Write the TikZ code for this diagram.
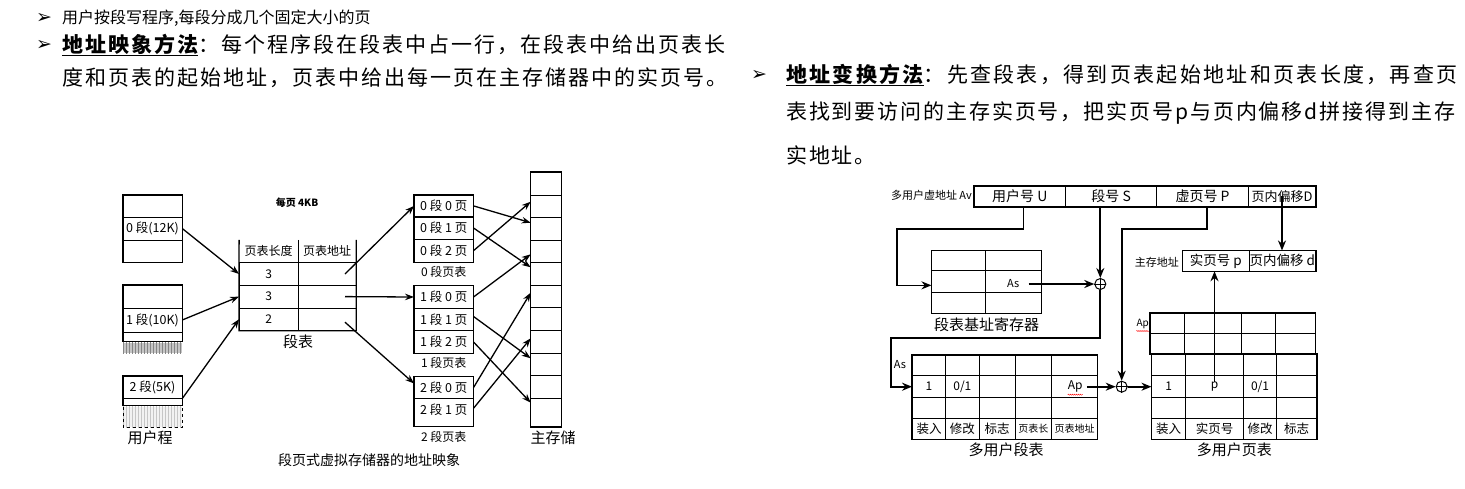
\documentclass[tikz,border=0pt]{standalone}
\usepackage{fontspec}
\setmainfont{Noto Sans CJK SC}
\newfontfamily\symfont{DejaVu Sans}
\newfontfamily\bigcjk[LetterSpace=9.5]{Noto Sans CJK SC}
\newfontfamily\bigcjkr[LetterSpace=11]{Noto Sans CJK SC}
\newfontfamily\bigcjks[LetterSpace=9]{Noto Sans CJK SC}
\usetikzlibrary{arrows.meta,patterns,decorations.pathmorphing}
\begin{document}
\begin{tikzpicture}[x=1pt,y=-1pt,
  fs/.style={font=\fontsize{#1}{#1}\selectfont},
  cell/.style 2 args={draw,line width=0.5pt,inner sep=0pt,minimum width=#1,minimum height=#2},
  outerb/.style={line width=1.3pt},
  arr/.style={-{Stealth[length=9pt,width=6.5pt]},line width=1.3pt},
  tarr/.style={-{Stealth[length=10pt,width=8pt]},line width=1.7pt},
  oplus/.style={circle,draw,line width=1pt,minimum size=11pt,inner sep=0pt},
  lbl/.style={inner sep=0pt},
  bul/.style={inner sep=0pt,anchor=west,font=\symfont\fontsize{19}{19}\selectfont},
  wavy/.style={red,line width=0.4pt,decorate,decoration={snake,amplitude=0.6pt,segment length=2pt}}
]
\useasboundingbox (0,0) rectangle (1465,488);
\fill[white] (0,0) rectangle (1465,488);

% ---------------- top text ----------------
\node[bul] (b1) at (36,18) {➢};
\node[lbl,anchor=west] (t1) at (62,18) {\fontsize{16}{16}\selectfont 用户按段写程序,每段分成几个固定大小的页};
\node[bul] (b2) at (36,45) {➢};
\node[lbl,anchor=west] (t2) at (62,45) {\bigcjk\fontsize{21}{21}\selectfont\underline{\bfseries 地址映象方法}：每个程序段在段表中占一行，在段表中给出页表长};
\node[lbl,anchor=west] (t3) at (62,78) {\bigcjk\fontsize{21}{21}\selectfont 度和页表的起始地址，页表中给出每一页在主存储器中的实页号。};
\node[bul] (b4) at (751,75) {➢};
\node[lbl,anchor=west] (t4) at (786,75) {\bigcjkr\fontsize{21}{21}\selectfont\underline{\bfseries 地址变换方法}：先查段表，得到页表起始地址和页表长度，再查页};
\node[lbl,anchor=west] (t5) at (786,113) {\bigcjks\fontsize{21}{21}\selectfont 表找到要访问的主存实页号，把实页号p与页内偏移d拼接得到主存};
\node[lbl,anchor=west] (t6) at (786,155) {\bigcjks\fontsize{21}{21}\selectfont 实地址。};

% ---------------- left diagram ----------------
% user program
\node[cell={59}{22}] (u0r1) at (152.5,206) {};
\node[cell={59}{23}] (u0r2) at (152.5,228.5) {};
\node[cell={59}{22}] (u0r3) at (152.5,251) {};
\node[lbl,fs=12.5] (u0t) at (u0r2) {0 段(12K)};
\draw[outerb] (u0r1.north west) rectangle (u0r3.south east);

\node[cell={59}{22.7}] (u1r1) at (152.5,296.7) {};
\node[cell={59}{24}] (u1r2) at (152.5,320) {};
\node[cell={59}{9}] (u1r3) at (152.5,336.5) {};
\node[lbl,fs=12.5] (u1t) at (u1r2) {1 段(10K)};
\draw[outerb] (u1r1.north west) rectangle (u1r3.south east);
\fill[gray!45] (123,342.5) rectangle (182,353);
\fill[pattern=vertical lines,pattern color=gray!95] (123,342.5) rectangle (182,353);

\node[cell={59}{22.3}] (u2r1) at (152.5,387.2) {};
\node[cell={59}{6.7}] (u2r2) at (152.5,401.7) {};
\node[lbl,fs=12.5] (u2t) at (u2r1) {2 段(5K)};
\draw[outerb] (u2r1.north west) rectangle (u2r2.south east);
\fill[gray!10] (123,406.5) rectangle (182,427);
\fill[pattern=vertical lines,pattern color=gray!45] (123,406.5) rectangle (182,427);
\draw[dashed,line width=0.7pt] (123,406.5) -- (123,427) -- (182,427) -- (182,406.5);
\node[lbl,fs=15] (uprog) at (150,438) {用户程};

\node[lbl,font={\fontsize{10}{10}\selectfont\bfseries}] (pg) at (297,203) {每页 4KB};

% segment table
\node[lbl,minimum width=58.7,minimum height=22.7] (sh1) at (268.65,251.35) {\fontsize{12}{12}\selectfont 页表长度};
\node[lbl,minimum width=58,minimum height=22.7] (sh2) at (327,251.35) {\fontsize{12}{12}\selectfont 页表地址};
\draw[line width=0.5pt] (sh1.north east) -- (sh1.south east);
\node[cell={58.7}{22.6}] (st1a) at (268.65,274) {};
\node[cell={58}{22.6}] (st1b) at (327,274) {};
\node[cell={58.7}{22.6}] (st2a) at (268.65,296.6) {};
\node[cell={58}{22.6}] (st2b) at (327,296.6) {};
\node[cell={58.7}{22.6}] (st3a) at (268.65,319.2) {};
\node[cell={58}{22.6}] (st3b) at (327,319.2) {};
\node[lbl,fs=12] (n1) at (st1a) {3};
\node[lbl,fs=12] (n2) at (st2a) {3};
\node[lbl,fs=12] (n3) at (st3a) {2};
\draw[outerb] (sh1.north west) -- (st3a.south west) -- (st3b.south east) -- (sh2.north east);
\node[lbl,fs=15] (stlbl) at (298,342) {段表};

% page tables
\node[cell={59}{21.7}] (p0r1) at (443.8,205.9) {};
\node[cell={59}{22.6}] (p0r2) at (443.8,228) {};
\node[cell={59}{22.7}] (p0r3) at (443.8,250.65) {};
\draw[outerb] (p0r1.north west) rectangle (p0r3.south east);
\node[lbl,fs=12.5] at (p0r1) {0 段 0 页};
\node[lbl,fs=12.5] at (p0r2) {0 段 1 页};
\node[lbl,fs=12.5] at (p0r3) {0 段 2 页};
\node[lbl,fs=12] (p0l) at (443.8,272) {0 段页表};

\node[cell={59}{22.6}] (p1r1) at (443.8,297) {};
\node[cell={59}{22.4}] (p1r2) at (443.8,319.5) {};
\node[cell={59}{22.6}] (p1r3) at (443.8,342) {};
\draw[outerb] (p1r1.north west) rectangle (p1r3.south east);
\node[lbl,fs=12.5] at (p1r1) {1 段 0 页};
\node[lbl,fs=12.5] at (p1r2) {1 段 1 页};
\node[lbl,fs=12.5] at (p1r3) {1 段 2 页};
\node[lbl,fs=12] (p1l) at (443.8,362.5) {1 段页表};

\node[cell={59}{21.6}] (p2r1) at (443.8,387.5) {};
\node[lbl,minimum width=59,minimum height=22] (p2r2) at (443.8,409.3) {};
\draw[outerb] (p2r1.north west) rectangle (443.8+29.5,426.7);
\node[lbl,fs=12.5] at (p2r1) {2 段 0 页};
\node[lbl,fs=12.5] at (p2r2) {2 段 1 页};
\node[lbl,fs=12] (p2l) at (443.8,436.5) {2 段页表};

% main memory
\foreach \i in {0,...,9}
  \node[cell={30.3}{22.57}] (mm\i) at (545.85,{183.585+22.57*\i}) {};
\node[cell={30.3}{28.7}] (mm10) at (545.85,412.35) {};
\draw[outerb] (mm0.north west) rectangle (mm10.south east);
\node[lbl,fs=15] (memlbl) at (553,438) {主存储};

\node[lbl,fs=14] (cap) at (369,460) {段页式虚拟存储器的地址映象};

% connectors left
\draw[arr] (u0r2.east) -- (st1a.west);
\draw[arr] (u1r2.east) -- (st2a.west);
\draw[arr] (u2r1.south east) -- (st3a.west);
\draw[arr] ([xshift=18pt]st1b.center) -- (p0r1.west);
\draw[arr] ([xshift=18pt]st2b.center) -- (p1r1.west);
\draw[arr] ([xshift=18pt,yshift=-3pt]st3b.center) -- ([yshift=4pt]p2r1.west);
\coordinate (m1) at (530.7,201.7);
\coordinate (m2) at (530.7,222.7);
\coordinate (m3) at (530.7,254.3);
\coordinate (m4) at (530.7,267.3);
\coordinate (m5) at (530.7,292.7);
\coordinate (m7) at (530.7,338.3);
\coordinate (m8) at (530.7,358.3);
\coordinate (m10) at (530.7,402.7);
\draw[arr] (p0r1.east) -- (m2);
\draw[arr] (p0r2.east) -- (m4);
\draw[arr] (p0r3.east) -- (m1);
\draw[arr] (p1r1.east) -- (m3);
\draw[arr] ([yshift=3pt]p1r2.east) -- (m8);
\draw[arr] (p1r3.east) -- (m10);
\draw[arr] (p2r1.east) -- (m5);
\draw[arr] ([yshift=1pt]p2r2.east) -- (m7);

% ---------------- right diagram ----------------
\node[cell={91.7}{20.7}] (cU) at (1019.85,196.35) {};
\node[cell={91}{20.7}] (cS) at (1111.2,196.35) {};
\node[cell={91.6}{20.7}] (cP) at (1202.5,196.35) {};
\node[cell={67.4}{20.7}] (cD) at (1282,196.35) {};
\draw[outerb] (cU.north west) rectangle (cD.south east);
\node[lbl,fs=14] (tU) at (cU) {用户号 U};
\node[lbl,fs=14] (tS) at (cS) {段号 S};
\node[lbl,fs=14] (tP) at (cP) {虚页号 P};
\node[lbl,fs=13] (tD) at (cD) {页内偏移D};
\node[lbl,fs=11,anchor=east] (avl) at (972,195) {多用户虚地址 Av};

% segment base register
\node[cell={54}{19.3}] (sbL1) at (958.7,260.35) {};
\node[cell={55.3}{19.3}] (sbR1) at (1013.35,260.35) {};
\node[cell={54}{22.7}] (sbL2) at (958.7,281.35) {};
\node[cell={55.3}{22.7}] (sbR2) at (1013.35,281.35) {};
\node[cell={54}{20.6}] (sbL3) at (958.7,303) {};
\node[cell={55.3}{20.6}] (sbR3) at (1013.35,303) {};
\draw[outerb] (sbL1.north west) rectangle (sbR3.south east);
\node[lbl,fs=11] (tAs) at (1013.3,284) {As};
\node[lbl,fs=15] (sblbl) at (986.7,324.5) {段表基址寄存器};

\node[oplus] (op1) at (1100.3,284) {};
\draw[line width=1pt] (op1.north) -- (op1.south) (op1.west) -- (op1.east);

% multi-user segment table
\foreach \cx/\w [count=\c] in {929/33.4,962.35/33.3,997/36,1033.35/36.7,1074.5/45.6}
  \foreach \cy/\h [count=\r] in {365.35/20.7,386.7/22,408/20.6,428.8/21}
    \node[cell={\w}{\h}] (sg\r\c) at (\cx,\cy) {};
\draw[outerb] (sg11.north west) rectangle (sg45.south east);
\node[lbl,fs=12] (sgt1) at (sg21) {1};
\node[lbl,fs=12] (sgt2) at (sg22) {0/1};
\node[lbl,fs=12] (sgAp) at (1075.3,386.7) {Ap};
\draw[wavy] ([yshift=-2pt]sgAp.south west) -- ([yshift=-2pt]sgAp.south east);
\node[lbl,fs=12.5] at (sg41) {装入};
\node[lbl,fs=12.5] at (sg42) {修改};
\node[lbl,fs=12.5] at (sg43) {标志};
\node[lbl,fs=10] at (sg44) {页表长};
\node[lbl,fs=10] at (sg45) {页表地址};
\node[lbl,fs=11] (as2) at (900,364.3) {As};
\node[lbl,fs=15] (sglbl) at (1006,450) {多用户段表};

\node[oplus] (op2) at (1121.7,386.7) {};
\draw[line width=1pt] (op2.north) -- (op2.south) (op2.west) -- (op2.east);

% multi-user page table
\foreach \cx/\w [count=\c] in {1167/34,1212.85/57.7,1258.35/33.3,1295/40}
  \foreach \cy/\h [count=\r] in {323.3/20,343.8/21}
    \node[cell={\w}{\h}] (pu\r\c) at (\cx,\cy) {};
\draw[outerb] (pu11.north west) rectangle (pu24.south east);
\foreach \cx/\w [count=\c] in {1168.7/34,1214.5/57.6,1260/33.4,1296.7/40}
  \foreach \cy/\h [count=\r] in {365/21.4,386.7/22,408/20.6,428.8/21}
    \node[cell={\w}{\h}] (pl\r\c) at (\cx,\cy) {};
\draw[outerb] (pl11.north west) rectangle (pl44.south east);
\node[lbl,fs=12] (plt1) at (pl21) {1};
\node[lbl,fs=12] (tp) at (pl22) {p};
\node[lbl,fs=12] (plt3) at (pl23) {0/1};
\node[lbl,fs=12.5] at (pl41) {装入};
\node[lbl,fs=12.5] at (pl42) {实页号};
\node[lbl,fs=12.5] at (pl43) {修改};
\node[lbl,fs=12.5] at (pl44) {标志};
\node[lbl,fs=10,anchor=east] (puAp) at (1149,324) {Ap};
\draw[wavy] ([yshift=-2pt]puAp.south west) -- ([yshift=-2pt]puAp.south east);
\node[lbl,fs=15] (pllbl) at (1234.3,450) {多用户页表};

% main memory address
\node[cell={66.3}{20.3}] (ma1) at (1215.85,260.85) {};
\node[cell={66.7}{20.3}] (ma2) at (1282.35,260.85) {};
\draw[outerb] (ma1.north west) rectangle (ma2.south east);
\node[lbl,fs=13.5] (tma1) at (ma1) {实页号 p};
\node[lbl,fs=13.5] (tma2) at (ma2) {页内偏移 d};
\node[lbl,fs=11,anchor=east] (mal) at (1179,262) {主存地址};

% connectors right
\coordinate (k1) at (897.3,229.3);
\coordinate (k2) at (891,337.7);
\coordinate (k3) at (1121.7,229.3);
\draw[tarr] ([xshift=3.5pt]cU.south) |- (k1) |- ([yshift=-4pt]sbL2.west);
\draw[tarr] (cS.south -| op1) -- (op1.north);
\draw[tarr] ([xshift=9pt]tAs.east) -- (op1.west);
\draw[tarr] (op1.south) |- (k2) |- (sg21.west);
\draw[tarr] ([xshift=4pt]sgAp.east) -- (op2.west);
\draw[tarr] ([xshift=4.2pt]cP.south) |- (k3) -- (op2.north);
\draw[tarr] (op2.east) -- (pl21.west);
\draw[tarr] (tp.north) -- (tp.north |- ma1.south);
\draw[tarr] (cD.center) -- (cD.center |- ma2.north);
\end{tikzpicture}
\end{document}
